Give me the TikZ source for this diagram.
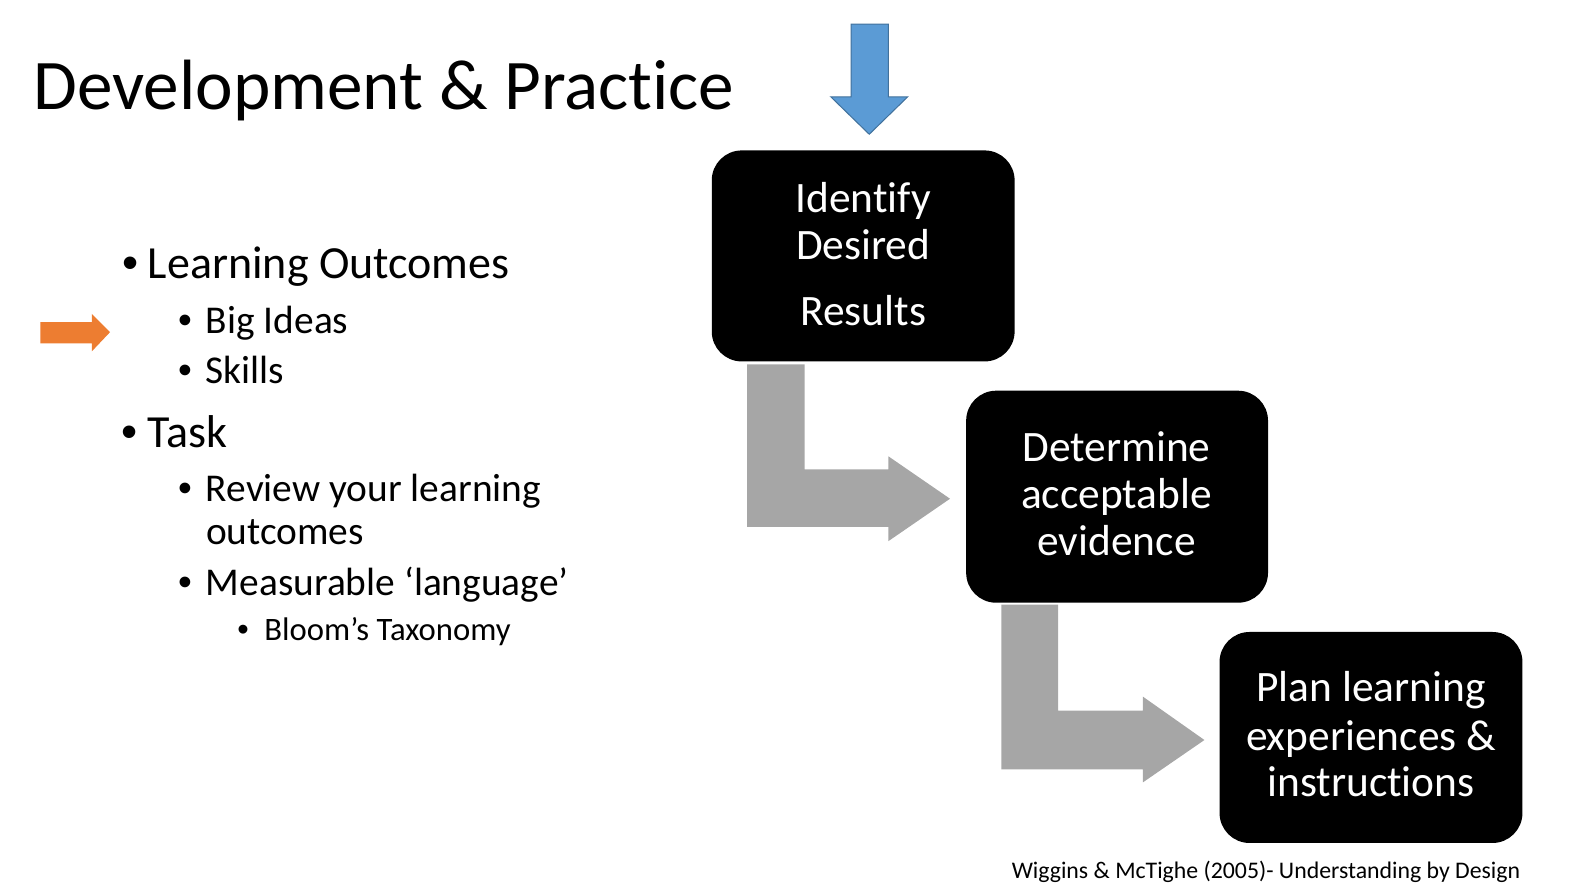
\documentclass[tikz,border=0pt]{standalone}
\usepackage{fontspec}
\setmainfont{Carlito}[Ligatures={NoCommon,TeX}]
\newfontfamily\bulletfont{Liberation Sans}
\newcommand{\blt}[1]{\makebox[#1][l]{\bulletfont •}}
\definecolor{arrgray}{HTML}{A6A6A6}
\definecolor{bluefill}{HTML}{5B9BD5}
\definecolor{blueline}{HTML}{41719C}
\definecolor{orangefill}{HTML}{ED7D31}
\begin{document}
\begin{tikzpicture}[x=1.0096pt,y=-1.0096pt,
  stepbox/.style={fill=black,rounded corners=30pt},
  boxtxt/.style={anchor=base,text=white,inner sep=0pt,font=\fontsize{43.4}{47}\selectfont},
  lvlone/.style={anchor=base west,inner sep=0pt,font=\fontsize{46}{50}\selectfont},
  lvltwo/.style={anchor=base west,inner sep=0pt,font=\fontsize{39.4}{43}\selectfont},
  lvlthree/.style={anchor=base west,inner sep=0pt,font=\fontsize{32.7}{36}\selectfont},
  bendarrow/.style={fill=arrgray}
]
\useasboundingbox (0,0) rectangle (1568,883);

% title
\node[anchor=base west,inner sep=0pt,font=\fontsize{71.2}{75}\selectfont] (title) at (33,108) {Development \& Practice};

% blue down arrow
\draw[fill=bluefill,draw=blueline,line width=1pt] (843,24) -- (880,24) -- (880,96) -- (899,96) -- (861,133) -- (823,96) -- (843,96) -- cycle;

% boxes
\path[stepbox] (705,149) rectangle (1005,358);
\node[boxtxt] (b1l1) at (855,210) {Identify};
\node[boxtxt] (b1l2) at (855,257) {Desired};
\node[boxtxt] (b1l3) at (855,322) {Results};

\path[stepbox] (957,387) rectangle (1256,597);
\node[boxtxt] (b2l1) at (1106,457) {Determine};
\node[boxtxt] (b2l2) at (1106,504) {acceptable};
\node[boxtxt] (b2l3) at (1106,550) {evidence};

\path[stepbox] (1208,626) rectangle (1508,835);
\node[boxtxt] (b3l1) at (1358,695) {Plan learning};
\node[boxtxt] (b3l2) at (1358,743) {experiences \&};
\node[boxtxt] (b3l3) at (1358,789) {instructions};

% gray bent arrows
\fill[bendarrow] (740,361) -- (797,361) -- (797,465) -- (880,465) -- (880,452) -- (941,494) -- (880,536) -- (880,522) -- (740,522) -- cycle;
\fill[bendarrow] (992,599) -- (1048,599) -- (1048,704) -- (1132,704) -- (1132,690) -- (1193,733) -- (1132,775) -- (1132,762) -- (992,762) -- cycle;

% footer
\node[anchor=base east,inner sep=0pt,font=\fontsize{23.8}{26}\selectfont] (foot) at (1506,870) {Wiggins \& McTighe (2005)- Understanding by Design};

% orange arrow
\fill[orangefill] (40,319) -- (91,319) -- (91,311) -- (109,329) -- (91,348) -- (91,340) -- (40,340) -- cycle;

% bullet list
\node[lvlone] (lo) at (121,276) {\blt{25.5pt}Learning Outcomes};
\node[lvltwo] (big) at (177,330) {\blt{27pt}Big Ideas};
\node[lvltwo] (sk) at (177,380) {\blt{27pt}Skills};
\node[lvlone] (task) at (120,443) {\blt{26pt}Task};
\node[lvltwo] (rev) at (177,497) {\blt{27pt}Review your learning};
\node[lvltwo] (rev2) at (204,539) {outcomes};
\node[lvltwo] (meas) at (177,590) {\blt{27pt}Measurable ‘language’};
\node[lvlthree] (bloom) at (235,634) {\blt{27pt}Bloom’s Taxonomy};
\end{tikzpicture}
\end{document}
